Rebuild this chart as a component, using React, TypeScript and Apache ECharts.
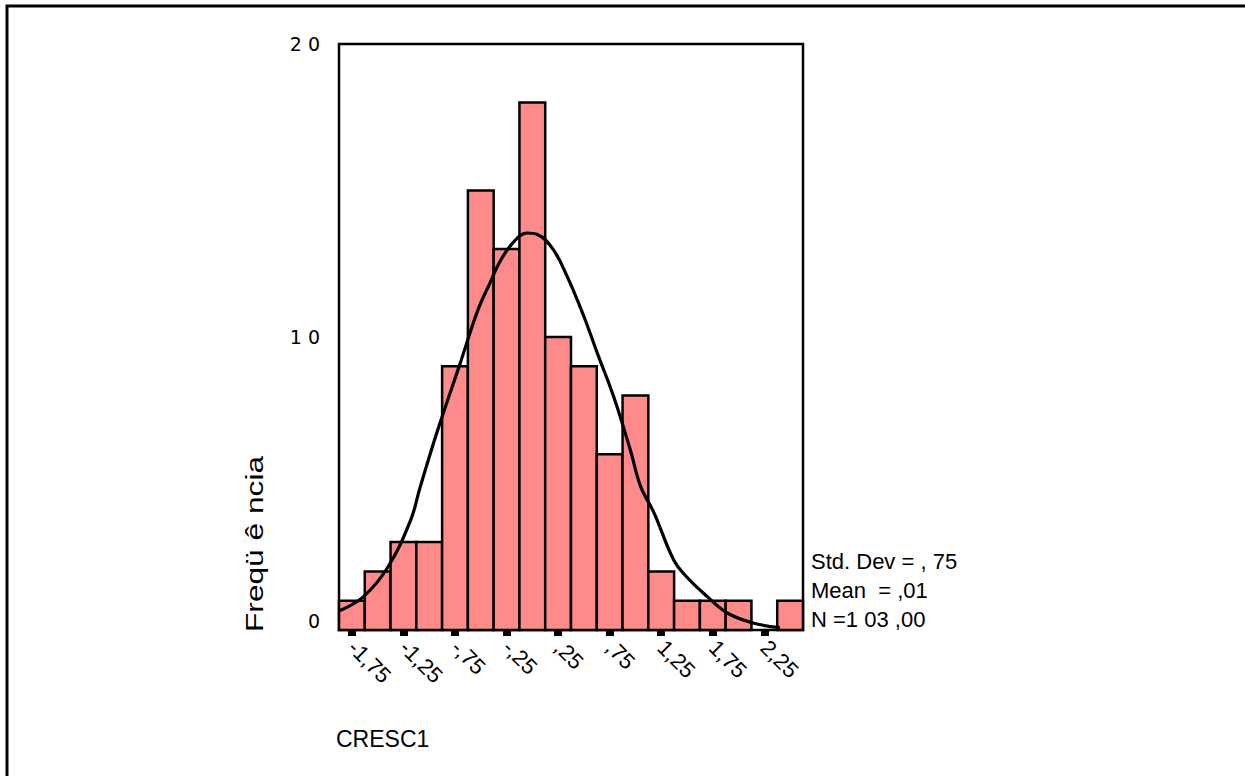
import React, { useEffect, useRef } from "react";
import * as echarts from "echarts";

// Histogram data (bin centres, bin width 0,25)
const binCenters = [-1.75, -1.5, -1.25, -1.0, -0.75, -0.5, -0.25, 0.0, 0.25, 0.5, 0.75, 1.0, 1.25, 1.5, 1.75, 2.0, 2.25, 2.5];
const counts = [1, 2, 3, 3, 9, 15, 13, 18, 10, 9, 6, 8, 2, 1, 1, 1, 0, 1];

// Tick values and their labels
const tickValues = [-1.75, -1.25, -0.75, -0.25, 0.25, 0.75, 1.25, 1.75, 2.25];
const tickLabels = ["-1,75", "-1,25", "-,75", "-,25", ",25", ",75", "1,25", "1,75", "2,25"];
const yTickLabels = ["0", "1 0", "2 0"];

// Fitted normal curve
const curveX = [-1.875, -1.64, -1.4, -1.18, -1.09, -0.92, -0.7, -0.53, -0.41, -0.31, -0.18, -0.05, 0.05, 0.2, 0.34, 0.5, 0.63, 0.79, 0.95, 1.05, 1.18, 1.37, 1.5, 1.7, 1.89, 2.14, 2.4];
const curveY = [0.65, 1.13, 2.15, 3.75, 4.85, 6.8, 9.1, 10.9, 11.85, 12.6, 13.25, 13.55, 13.5, 13.0, 12.05, 10.7, 9.45, 7.95, 6.15, 4.9, 4.0, 2.4, 1.8, 1.13, 0.58, 0.24, 0.08];

const statsLines = ["Std. Dev = , 75", "Mean  = ,01", "N =1 03 ,00"];
const xName = "CRESC1";
const yName = "Freqü ê ncia";

const BIN_W = 0.25;

export default function App() {
  const ref = useRef<HTMLDivElement>(null);
  useEffect(() => {
    if (!ref.current) return;
    const chart = echarts.init(ref.current, null, { renderer: "svg" });
    const font = "Liberation Sans, Arial, sans-serif";
    chart.setOption({
      animation: false,
      backgroundColor: "#fff",
      grid: {
        left: 339,
        top: 44,
        width: 464,
        height: 586,
        show: true,
        borderColor: "#000",
        borderWidth: 2.5,
        backgroundColor: "transparent",
      },
      xAxis: {
        type: "value",
        min: -1.875,
        max: 2.625,
        splitLine: { show: false },
        axisLine: { show: false },
        axisTick: {
          show: true,
          customValues: tickValues,
          length: 6,
          lineStyle: { color: "#000", width: 8 },
        },
        axisLabel: {
          customValues: tickValues,
          rotate: -45,
          margin: 14,
          fontSize: 22,
          fontFamily: font,
          color: "#000",
          formatter: (v: number) => {
            const i = tickValues.findIndex((t) => Math.abs(t - v) < 1e-6);
            return i >= 0 ? tickLabels[i] : "";
          },
        },
      },
      yAxis: {
        type: "value",
        min: 0,
        max: 20,
        interval: 10,
        splitLine: { show: false },
        axisLine: { show: false },
        axisTick: { show: false },
        axisLabel: {
          margin: 19,
          fontSize: 19,
          fontFamily: "DejaVu Sans, sans-serif",
          color: "#000",
          verticalAlignMinLabel: "bottom",
          formatter: (v: number) => yTickLabels[Math.round(v / 10)] ?? "",
        },
      },
      series: [
        {
          type: "custom",
          data: binCenters.map((x, i) => [x, counts[i]]),
          renderItem: (params: any, api: any) => {
            const x = api.value(0);
            const c = api.value(1);
            if (c <= 0) return null;
            const p0 = api.coord([x - BIN_W / 2, c]);
            const p1 = api.coord([x + BIN_W / 2, 0]);
            return {
              type: "rect",
              shape: { x: p0[0], y: p0[1], width: p1[0] - p0[0], height: p1[1] - p0[1] },
              style: { fill: "#FF8A8A", stroke: "#000", lineWidth: 2.5 },
            };
          },
          z: 2,
        },
        {
          type: "line",
          data: curveX.map((x, i) => [x, curveY[i]]),
          smooth: 0.4,
          showSymbol: false,
          symbol: "none",
          lineStyle: { color: "#000", width: 3.2 },
          z: 3,
        },
      ],
      graphic: [
        {
          type: "rect",
          shape: { x: 7, y: 6, width: 1400, height: 1000 },
          style: { fill: "none", stroke: "#000", lineWidth: 3 },
          silent: true,
        },
        {
          type: "text",
          x: 255,
          y: 632,
          rotation: Math.PI / 2,
          scaleX: 1.32,
          style: {
            text: yName,
            fontSize: 24,
            fontFamily: font,
            fill: "#000",
            textAlign: "left",
            textVerticalAlign: "middle",
          },
        },
        {
          type: "text",
          x: 336,
          y: 739,
          style: {
            text: xName,
            fontSize: 23,
            fontFamily: font,
            fill: "#000",
            textAlign: "left",
            textVerticalAlign: "middle",
          },
        },
        ...statsLines.map((t, i) => ({
          type: "text",
          x: 811,
          y: 561 + i * 29,
          style: {
            text: t,
            fontSize: 22,
            fontFamily: font,
            fill: "#000",
            textAlign: "left",
            textVerticalAlign: "middle",
          },
        })),
      ],
    });
    return () => chart.dispose();
  }, []);
  return (
    <div
      ref={ref}
      style={{ position: "fixed", left: 0, top: 0, width: 1245, height: 776 }}
    />
  );
}
